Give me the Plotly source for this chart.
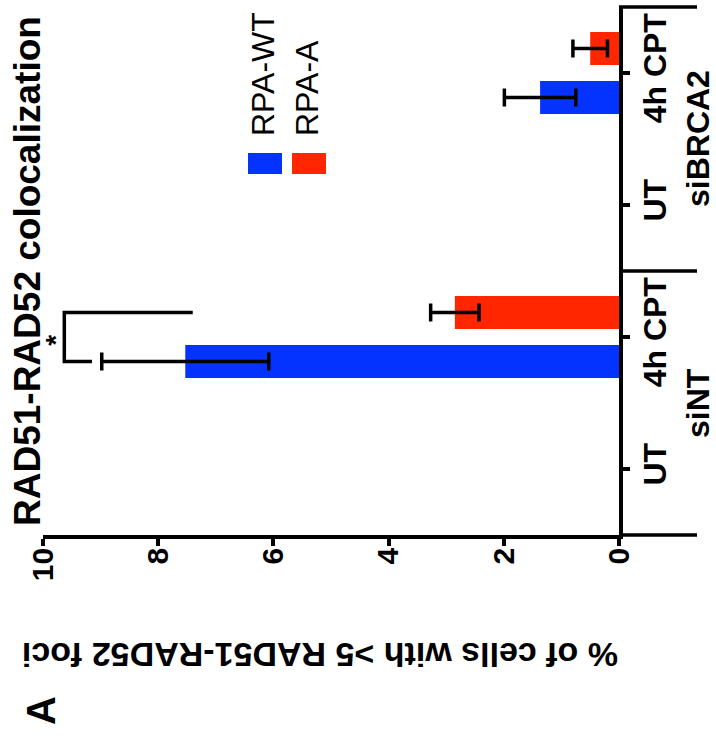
import numpy as np
import plotly.graph_objects as go

# ---------------- data ----------------
categories = ["siNT UT", "siNT 4h CPT", "siBRCA2 UT", "siBRCA2 4h CPT"]
treatment_labels = ["UT", "4h CPT", "UT", "4h CPT"]
group_labels = ["siNT", "siBRCA2"]
group_centers = [0.5, 2.5]          # category-index centre of each siRNA group
series_names = ["RPA-WT", "RPA-A"]
wt_values = [0, 7.53, 0, 1.37]
wt_errors = [np.nan, 1.45, np.nan, 0.62]
a_values = [0, 2.85, 0, 0.50]
a_errors = [np.nan, 0.42, np.nan, 0.30]
value_ticks = [0, 2, 4, 6, 8, 10]
sig_red_end = 7.4       # bracket arm at RPA-A bar
sig_spine = 9.63        # bracket spine
sig_blue_end = 9.15     # bracket arm at RPA-WT bar
sig_label_x = 9.78
sig_category = 1        # siNT 4h CPT

# ---------------- layout helpers ----------------
W, H = 716, 736
L, R, T, B = 43, 619, 7, 535


def px(x):
    return (x - L) / (R - L)


def py(y):
    return (B - y) / (B - T)


BLUE = "#0433FF"
RED = "#FF2600"
FONT = "Liberation Sans, Arial, sans-serif"
LW = 3.5
bargap = 0.258
bargroupgap = 0.327
slot = (1 - bargap) / 2

fig = go.Figure()
fig.add_trace(go.Bar(
    y=categories, x=wt_values, orientation="h", name=series_names[0],
    marker=dict(color=BLUE, line=dict(width=0)),
    error_x=dict(type="data", array=np.array(wt_errors, dtype=float), color="black",
                 thickness=LW, width=9),
    showlegend=False,
))
fig.add_trace(go.Bar(
    y=categories, x=a_values, orientation="h", name=series_names[1],
    marker=dict(color=RED, line=dict(width=0)),
    error_x=dict(type="data", array=np.array(a_errors, dtype=float), color="black",
                 thickness=LW, width=9),
    showlegend=False,
))

shapes = []
# group separator lines to the right of the category axis
for yy in [T, (T + B) / 2, B]:
    shapes.append(dict(type="line", xref="paper", yref="paper",
                       x0=1, x1=px(697), y0=py(yy), y1=py(yy),
                       line=dict(color="black", width=LW)))
# significance bracket
y_blue = sig_category - slot / 2
y_red = sig_category + slot / 2
shapes.append(dict(type="path", xref="x", yref="y",
                   path=f"M {sig_red_end},{y_red} L {sig_spine},{y_red} L {sig_spine},{y_blue} L {sig_blue_end},{y_blue}",
                   line=dict(color="black", width=LW)))
# legend swatches
shapes.append(dict(type="rect", xref="paper", yref="paper", x0=px(248), x1=px(282),
                   y0=py(174), y1=py(153), fillcolor=BLUE, line=dict(width=0)))
shapes.append(dict(type="rect", xref="paper", yref="paper", x0=px(292), x1=px(326),
                   y0=py(174), y1=py(153), fillcolor=RED, line=dict(width=0)))

annotations = [
    dict(text="RAD51-RAD52 colocalization", xref="paper", yref="paper",
         x=px(27), y=0.5, textangle=-90, showarrow=False, xanchor="center", yanchor="middle",
         font=dict(family=FONT, size=37, color="black", weight="bold")),
    dict(text="% of cells with >5 RAD51-RAD52 foci", xref="paper", yref="paper",
         x=px(320), y=py(655), textangle=180, showarrow=False, xanchor="center", yanchor="middle",
         font=dict(family=FONT, size=34, color="black", weight="bold")),
    dict(text="A", xref="paper", yref="paper", x=px(41), y=py(711), textangle=-90,
         showarrow=False, xanchor="center", yanchor="middle",
         font=dict(family=FONT, size=40, color="black", weight="bold")),
    dict(text="*", xref="x", yref="paper", x=sig_label_x, y=py(340), textangle=-90,
         showarrow=False, xanchor="center", yanchor="middle",
         font=dict(family=FONT, size=28, color="black", weight="bold")),
    dict(text=series_names[0], xref="paper", yref="paper", x=px(263), y=py(138), textangle=-90,
         showarrow=False, xanchor="center", yanchor="bottom",
         font=dict(family=FONT, size=32, color="black")),
    dict(text=series_names[1], xref="paper", yref="paper", x=px(307), y=py(138), textangle=-90,
         showarrow=False, xanchor="center", yanchor="bottom",
         font=dict(family=FONT, size=32, color="black")),
]
for lab, c in zip(group_labels, group_centers):
    annotations.append(dict(text=lab, xref="paper", yref="y", x=px(698), y=c, textangle=-90,
                            showarrow=False, xanchor="center", yanchor="middle",
                            font=dict(family=FONT, size=32, color="black", weight="bold")))

fig.update_layout(
    width=W, height=H,
    margin=dict(l=L, r=W - R, t=T, b=H - B, pad=0),
    paper_bgcolor="white", plot_bgcolor="white",
    barmode="group", bargap=bargap, bargroupgap=bargroupgap,
    shapes=shapes, annotations=annotations,
    font=dict(family=FONT, color="black"),
    xaxis=dict(range=[10, 0], tickvals=value_ticks, showline=True, linecolor="black", linewidth=LW,
               ticks="outside", ticklen=7, tickwidth=LW, tickcolor="black", tickangle=-90,
               ticklabelstandoff=-10,
               tickfont=dict(family=FONT, size=30, color="black", weight="bold"),
               showgrid=False, zeroline=False),
    yaxis=dict(type="category", categoryorder="array", categoryarray=categories,
               range=[-0.5, 3.5], side="right", showline=True, linecolor="black", linewidth=LW,
               ticks="outside", ticklen=7, tickwidth=LW, tickcolor="black",
               tickvals=categories, ticktext=treatment_labels, tickangle=-90,
               ticklabelstandoff=-2,
               tickfont=dict(family=FONT, size=32, color="black", weight="bold"),
               showgrid=False, zeroline=False),
)

fig.write_html("out.html")
